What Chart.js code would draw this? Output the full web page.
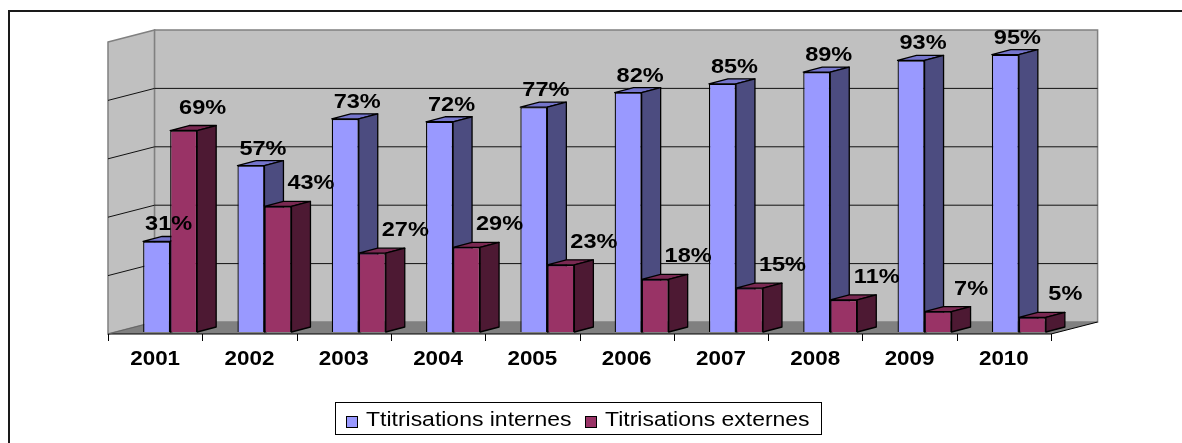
<!DOCTYPE html>
<html>
<head>
<meta charset="utf-8">
<script src="https://cdn.jsdelivr.net/npm/chart.js@4.4.1/dist/chart.umd.min.js"></script>
<style>
  html, body { margin: 0; padding: 0; background: #fff; overflow: hidden; }
  #wrap { width: 1182px; height: 443px; position: relative; }
</style>
</head>
<body>
<div id="wrap"><canvas id="c" width="1182" height="443"></canvas></div>
<script>
// Share of titrations done in-house vs. outsourced, per year (percent)
const years = ['2001', '2002', '2003', '2004', '2005', '2006', '2007', '2008', '2009', '2010'];
const internes = [31, 57, 73, 72, 77, 82, 85, 89, 93, 95];
const externes = [69, 43, 27, 29, 23, 18, 15, 11, 7, 5];
const seriesNames = ['Ttitrisations internes', 'Titrisations externes'];
const gridValues = [20, 40, 60, 80];

// Pseudo-3D look: the bar plane sits between the floor front edge and the back wall
const WALL = { dx: 31.6, dy: -10 };   // back wall relative to bar plane
const FRONT = { dx: -15, dy: 2 };     // floor front edge relative to bar plane
const DEPTH = { dx: 19, dy: -5 };     // bar thickness
const TEXT_SX = 1.12;                 // horizontal text stretch

const COLORS = [
  { front: '#9999FF', top: '#7575CC', side: '#4C4C80' },
  { front: '#993366', top: '#7A2952', side: '#4D1933' }
];

function wideText(ctx, text, x, y, font, align) {
  ctx.save();
  ctx.translate(x, y);
  ctx.scale(TEXT_SX, 1);
  ctx.font = font;
  ctx.textAlign = align || 'center';
  ctx.textBaseline = 'alphabetic';
  ctx.fillStyle = '#000';
  ctx.fillText(text, 0, 0);
  ctx.restore();
}

function poly(ctx, pts, fill, stroke, lw) {
  ctx.beginPath();
  ctx.moveTo(pts[0][0], pts[0][1]);
  for (let i = 1; i < pts.length; i++) ctx.lineTo(pts[i][0], pts[i][1]);
  ctx.closePath();
  if (fill) { ctx.fillStyle = fill; ctx.fill(); }
  if (stroke) { ctx.strokeStyle = stroke; ctx.lineWidth = lw || 1; ctx.stroke(); }
}

// top and right faces of every bar of one dataset
function drawBarFaces(ctx, meta, col) {
  ctx.save();
  ctx.lineJoin = 'round';
  meta.data.forEach(bar => {
    const L = bar.x - bar.width / 2, R = bar.x + bar.width / 2;
    const T = bar.y, B = bar.base;
    poly(ctx, [[L, T], [L + DEPTH.dx, T + DEPTH.dy], [R + DEPTH.dx, T + DEPTH.dy], [R, T]], col.top, '#000', 1.3);
    poly(ctx, [[R, T], [R + DEPTH.dx, T + DEPTH.dy], [R + DEPTH.dx, B + DEPTH.dy], [R, B]], col.side, '#000', 1.3);
  });
  ctx.restore();
}

const scene3d = {
  id: 'scene3d',
  beforeDatasetsDraw(chart) {
    const ctx = chart.ctx;
    const a = chart.chartArea;
    const ys = chart.scales.y;
    const xs = chart.scales.x;
    const base = ys.getPixelForValue(0);
    const topV = ys.getPixelForValue(100);

    ctx.save();
    // outer frame
    ctx.strokeStyle = '#1a1a1a';
    ctx.lineWidth = 2;
    ctx.strokeRect(9, 11, 1300, 600);

    const fl = a.left + FRONT.dx, fr = a.right + FRONT.dx;
    const wl = a.left + WALL.dx, wr = a.right + WALL.dx;

    // side wall
    poly(ctx, [[fl, topV + FRONT.dy], [wl, topV + WALL.dy], [wl, base + WALL.dy], [fl, base + FRONT.dy]], '#C0C0C0', '#808080', 1.5);
    // back wall
    poly(ctx, [[wl, topV + WALL.dy], [wr, topV + WALL.dy], [wr, base + WALL.dy], [wl, base + WALL.dy]], '#C0C0C0', '#808080', 1.5);

    // grid lines on both walls
    ctx.strokeStyle = '#111';
    ctx.lineWidth = 1;
    gridValues.forEach(v => {
      const y = ys.getPixelForValue(v);
      ctx.beginPath();
      ctx.moveTo(fl, y + FRONT.dy);
      ctx.lineTo(wl, y + WALL.dy);
      ctx.lineTo(wr, y + WALL.dy);
      ctx.stroke();
    });

    // floor
    poly(ctx, [[fl, base + FRONT.dy], [wl, base + WALL.dy], [wr, base + WALL.dy], [fr, base + FRONT.dy]], '#808080', null);
    ctx.strokeStyle = '#000';
    ctx.lineWidth = 1;
    ctx.beginPath();
    ctx.moveTo(fl, base + FRONT.dy);
    ctx.lineTo(fr, base + FRONT.dy);
    ctx.lineTo(wr, base + WALL.dy);
    ctx.stroke();
    ctx.strokeStyle = '#666';
    ctx.beginPath();
    ctx.moveTo(fl, base + FRONT.dy);
    ctx.lineTo(wl, base + WALL.dy);
    ctx.stroke();

    // category ticks and year labels along the floor front edge
    const step = (a.right - a.left) / years.length;
    ctx.strokeStyle = '#000';
    for (let i = 0; i <= years.length; i++) {
      const x = Math.round(fl + i * step) + 0.5;
      ctx.beginPath();
      ctx.moveTo(x, base + FRONT.dy);
      ctx.lineTo(x, base + FRONT.dy + 7);
      ctx.stroke();
    }
    years.forEach((yr, i) => {
      const x = xs.getPixelForValue(i) + FRONT.dx;
      wideText(ctx, yr, x, base + 33, 'bold 20px "Liberation Sans", Arial, sans-serif');
    });
    ctx.restore();
  },
  // Chart.js paints the last dataset first; hold the second series back so that
  // it can be painted after the first series' side faces.
  beforeDatasetDraw(chart, args) {
    if (args.index === 1) return false;
  },
  afterDatasetDraw(chart, args) {
    if (args.index !== 0) return;
    const ctx = chart.ctx;
    drawBarFaces(ctx, args.meta, COLORS[0]);
    const metaE = chart.getDatasetMeta(1);
    metaE.data.forEach(el => el.draw(ctx, chart.chartArea));
    drawBarFaces(ctx, metaE, COLORS[1]);
  },
  afterDatasetsDraw(chart) {
    const ctx = chart.ctx;
    const metaI = chart.getDatasetMeta(0), metaE = chart.getDatasetMeta(1);
    ctx.save();
    const font = 'bold 21px "Liberation Sans", Arial, sans-serif';
    metaI.data.forEach((bar, i) => {
      wideText(ctx, internes[i] + '%', bar.x + 12, bar.y - 11, font);
    });
    metaE.data.forEach((bar, i) => {
      // labels of the lower column are nudged right, clear of the neighbouring bar
      const off = externes[i] > internes[i] ? 19 : 33;
      wideText(ctx, externes[i] + '%', bar.x + off, bar.y - 17, font);
    });
    ctx.restore();
  },
  afterDraw(chart) {
    const ctx = chart.ctx;
    ctx.save();
    // legend box
    ctx.strokeStyle = '#000';
    ctx.lineWidth = 1;
    ctx.strokeRect(335.5, 402.5, 486, 32);
    const items = [
      { x: 346, tx: 366 },
      { x: 585, tx: 605 }
    ];
    const lf = '20.5px "Liberation Sans", Arial, sans-serif';
    items.forEach((it, i) => {
      ctx.fillStyle = COLORS[i].front;
      ctx.fillRect(it.x, 416, 11, 11);
      ctx.strokeStyle = '#000';
      ctx.strokeRect(it.x + 0.5, 416.5, 11, 11);
      wideText(ctx, seriesNames[i], it.tx, 426, lf, 'left');
    });
    ctx.restore();
  }
};

new Chart(document.getElementById('c'), {
  type: 'bar',
  data: {
    labels: years,
    datasets: [
      { label: seriesNames[0], data: internes, backgroundColor: COLORS[0].front, borderColor: '#000', borderWidth: 1.3 },
      { label: seriesNames[1], data: externes, backgroundColor: COLORS[1].front, borderColor: '#000', borderWidth: 1.3 }
    ]
  },
  options: {
    responsive: false,
    animation: false,
    devicePixelRatio: 1,
    categoryPercentage: 0.573,
    barPercentage: 1.0,
    layout: { padding: { left: 123, right: 116, top: 40, bottom: 111 } },
    scales: {
      x: { display: false },
      y: { display: false, min: 0, max: 100 }
    },
    plugins: {
      legend: { display: false },
      tooltip: { enabled: false }
    }
  },
  plugins: [scene3d]
});
</script>
</body>
</html>
